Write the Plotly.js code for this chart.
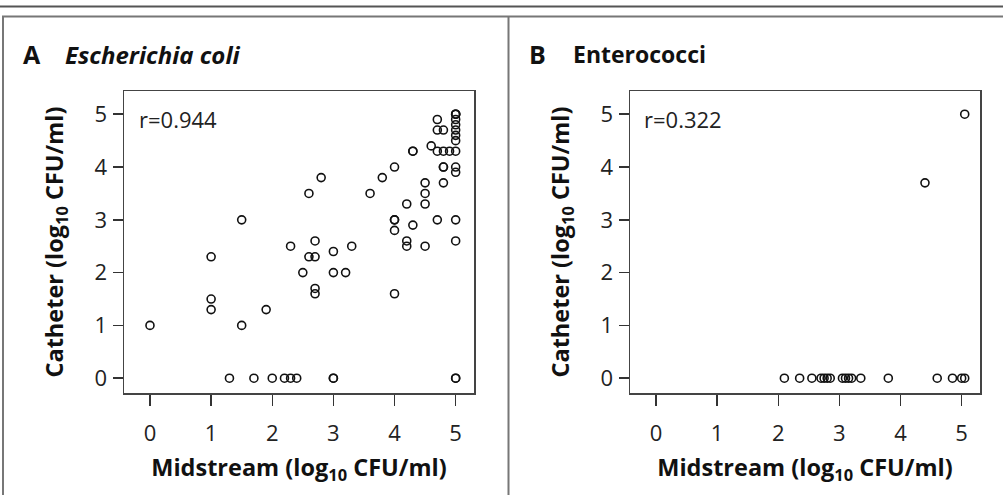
<!DOCTYPE html>
<html>
<head>
<meta charset="utf-8">
<script src="https://cdn.plot.ly/plotly-3.0.1.min.js"></script>
<style>html,body{margin:0;padding:0;background:#fff;}#chart{width:1003px;height:495px;}</style>
</head>
<body>
<div id="chart"></div>
<script>
// Panel A: Escherichia coli (midstream vs catheter, log10 CFU/ml)
const ecoliMidstream = [
  0,
  1.0, 1.0, 1.0,
  1.5, 1.5,
  1.9,
  1.3, 1.7, 2.0, 2.2, 2.3, 2.4,
  2.3,
  2.5,
  2.6, 2.6, 2.7, 2.7, 2.7, 2.7,
  2.8,
  3.0, 3.0, 3.2, 3.3,
  3.0, 3.0,
  3.6, 3.8,
  4.0, 4.0, 4.0, 4.0, 4.0,
  4.2, 4.2, 4.2,
  4.3, 4.3, 4.3,
  4.5, 4.5, 4.5, 4.5,
  4.6,
  4.7, 4.7, 4.8,
  4.7, 4.8, 4.9,
  4.8, 4.8, 4.8,
  4.7,
  5.0, 5.0, 5.0, 5.0, 5.0, 5.0, 5.0, 5.0, 5.0, 5.0, 5.0, 5.0, 5.0, 5.0, 5.0
];
const ecoliCatheter = [
  1.0,
  2.3, 1.5, 1.3,
  3.0, 1.0,
  1.3,
  0, 0, 0, 0, 0, 0,
  2.5,
  2.0,
  3.5, 2.3, 2.3, 2.6, 1.7, 1.6,
  3.8,
  2.4, 2.0, 2.0, 2.5,
  0, 0,
  3.5, 3.8,
  4.0, 3.0, 3.0, 2.8, 1.6,
  3.3, 2.6, 2.5,
  4.3, 4.3, 2.9,
  3.7, 3.5, 3.3, 2.5,
  4.4,
  4.9, 4.7, 4.7,
  4.3, 4.3, 4.3,
  4.0, 4.0, 3.7,
  3.0,
  5.0, 5.0, 5.0, 4.9, 4.8, 4.7, 4.6, 4.5, 4.3, 4.0, 3.9, 3.0, 2.6, 0, 0
];
// Panel B: Enterococci
const enteroMidstream = [2.1, 2.35, 2.55, 2.7, 2.75, 2.8, 2.85, 3.05, 3.1, 3.15, 3.2, 3.35, 3.8, 4.6, 4.85, 5.0, 5.05, 4.4, 5.05];
const enteroCatheter  = [0, 0, 0, 0, 0, 0, 0, 0, 0, 0, 0, 0, 0, 0, 0, 0, 0, 3.7, 5.0];

const tickValues = [0, 1, 2, 3, 4, 5];
const tickLabels = ['0', '1', '2', '3', '4', '5'];
const panelLetters = ['A', 'B'];
const panelNames = ['<i>Escherichia coli</i>', 'Enterococci'];
const rValues = ['r=0.944', 'r=0.322'];

const FONT = 'Open Sans, Noto Sans, sans-serif';
const W = 1003, H = 495;
const px = v => v / W;
const py = v => 1 - v / H;

const marker = {symbol: 'circle-open', size: 8, color: '#111', line: {width: 1.6, color: '#111'}};

const traces = [
  {type: 'scatter', mode: 'markers', x: ecoliMidstream, y: ecoliCatheter, xaxis: 'x', yaxis: 'y', marker: marker, hoverinfo: 'x+y', name: 'Escherichia coli'},
  {type: 'scatter', mode: 'markers', x: enteroMidstream, y: enteroCatheter, xaxis: 'x2', yaxis: 'y2', marker: marker, hoverinfo: 'x+y', name: 'Enterococci'}
];

function xAxis(domain, anchor) {
  return {
    domain: domain, anchor: anchor, range: [-0.425, 5.30],
    tickmode: 'array', tickvals: tickValues, ticktext: tickLabels,
    ticks: 'outside', ticklen: 11, tickwidth: 1.5, tickcolor: '#333',
    ticklabelstandoff: 9,
    showline: true, mirror: true, linecolor: '#444', linewidth: 1.5,
    showgrid: false, zeroline: false,
    tickfont: {family: FONT, size: 22, color: '#222'},
    title: {text: '<b>Midstream (log<sub>10</sub> CFU/ml)</b>', font: {family: FONT, size: 23.5, color: '#111'}, standoff: 13},
    automargin: false
  };
}
function yAxis(domain, anchor) {
  return {
    domain: domain, anchor: anchor, range: [-0.28, 5.44],
    tickmode: 'array', tickvals: tickValues, ticktext: tickLabels,
    ticks: 'outside', ticklen: 10, tickwidth: 1.5, tickcolor: '#333',
    ticklabelstandoff: 1,
    showline: true, mirror: true, linecolor: '#444', linewidth: 1.5,
    showgrid: false, zeroline: false,
    tickfont: {family: FONT, size: 22, color: '#222'},
    title: {text: '<b>Catheter (log<sub>10</sub> CFU/ml)</b>', font: {family: FONT, size: 23.5, color: '#111'}, standoff: 24},
    automargin: false
  };
}

const yDom = [py(393), py(91)];
const layout = {
  width: W, height: H,
  margin: {l: 0, r: 0, t: 0, b: 0},
  paper_bgcolor: '#fff', plot_bgcolor: '#fff',
  showlegend: false,
  font: {family: FONT, color: '#111'},
  xaxis: xAxis([px(124), px(474)], 'y'),
  yaxis: yAxis(yDom, 'x'),
  xaxis2: xAxis([px(630), px(980)], 'y2'),
  yaxis2: yAxis(yDom, 'x2'),
  shapes: [
    {type: 'line', xref: 'paper', yref: 'paper', x0: 0, x1: 1, y0: py(6.5), y1: py(6.5), line: {color: '#555', width: 2}},
    {type: 'line', xref: 'paper', yref: 'paper', x0: px(2), x1: 1, y0: py(16.5), y1: py(16.5), line: {color: '#777', width: 2}},
    {type: 'line', xref: 'paper', yref: 'paper', x0: px(3), x1: px(3), y0: 0, y1: py(16.5), line: {color: '#777', width: 2}},
    {type: 'line', xref: 'paper', yref: 'paper', x0: px(508.5), x1: px(508.5), y0: 0, y1: py(16.5), line: {color: '#777', width: 2}}
  ],
  annotations: [
    {xref: 'paper', yref: 'paper', x: px(21), y: py(54), xanchor: 'left', yanchor: 'middle', showarrow: false, text: '<b>' + panelLetters[0] + '</b>', font: {family: FONT, size: 25, color: '#111'}},
    {xref: 'paper', yref: 'paper', x: px(63), y: py(54), xanchor: 'left', yanchor: 'middle', showarrow: false, text: '<b>' + panelNames[0] + '</b>', font: {family: FONT, size: 24, color: '#111'}},
    {xref: 'paper', yref: 'paper', x: px(527), y: py(54), xanchor: 'left', yanchor: 'middle', showarrow: false, text: '<b>' + panelLetters[1] + '</b>', font: {family: FONT, size: 25, color: '#111'}},
    {xref: 'paper', yref: 'paper', x: px(571), y: py(54), xanchor: 'left', yanchor: 'middle', showarrow: false, text: '<b>' + panelNames[1] + '</b>', font: {family: FONT, size: 23, color: '#111'}},
    {xref: 'paper', yref: 'paper', x: px(137), y: py(119), xanchor: 'left', yanchor: 'middle', showarrow: false, text: rValues[0], font: {family: FONT, size: 22, color: '#222'}},
    {xref: 'paper', yref: 'paper', x: px(642), y: py(119), xanchor: 'left', yanchor: 'middle', showarrow: false, text: rValues[1], font: {family: FONT, size: 22, color: '#222'}}
  ]
};

Plotly.newPlot('chart', traces, layout, {staticPlot: true, displayModeBar: false});
</script>
</body>
</html>
